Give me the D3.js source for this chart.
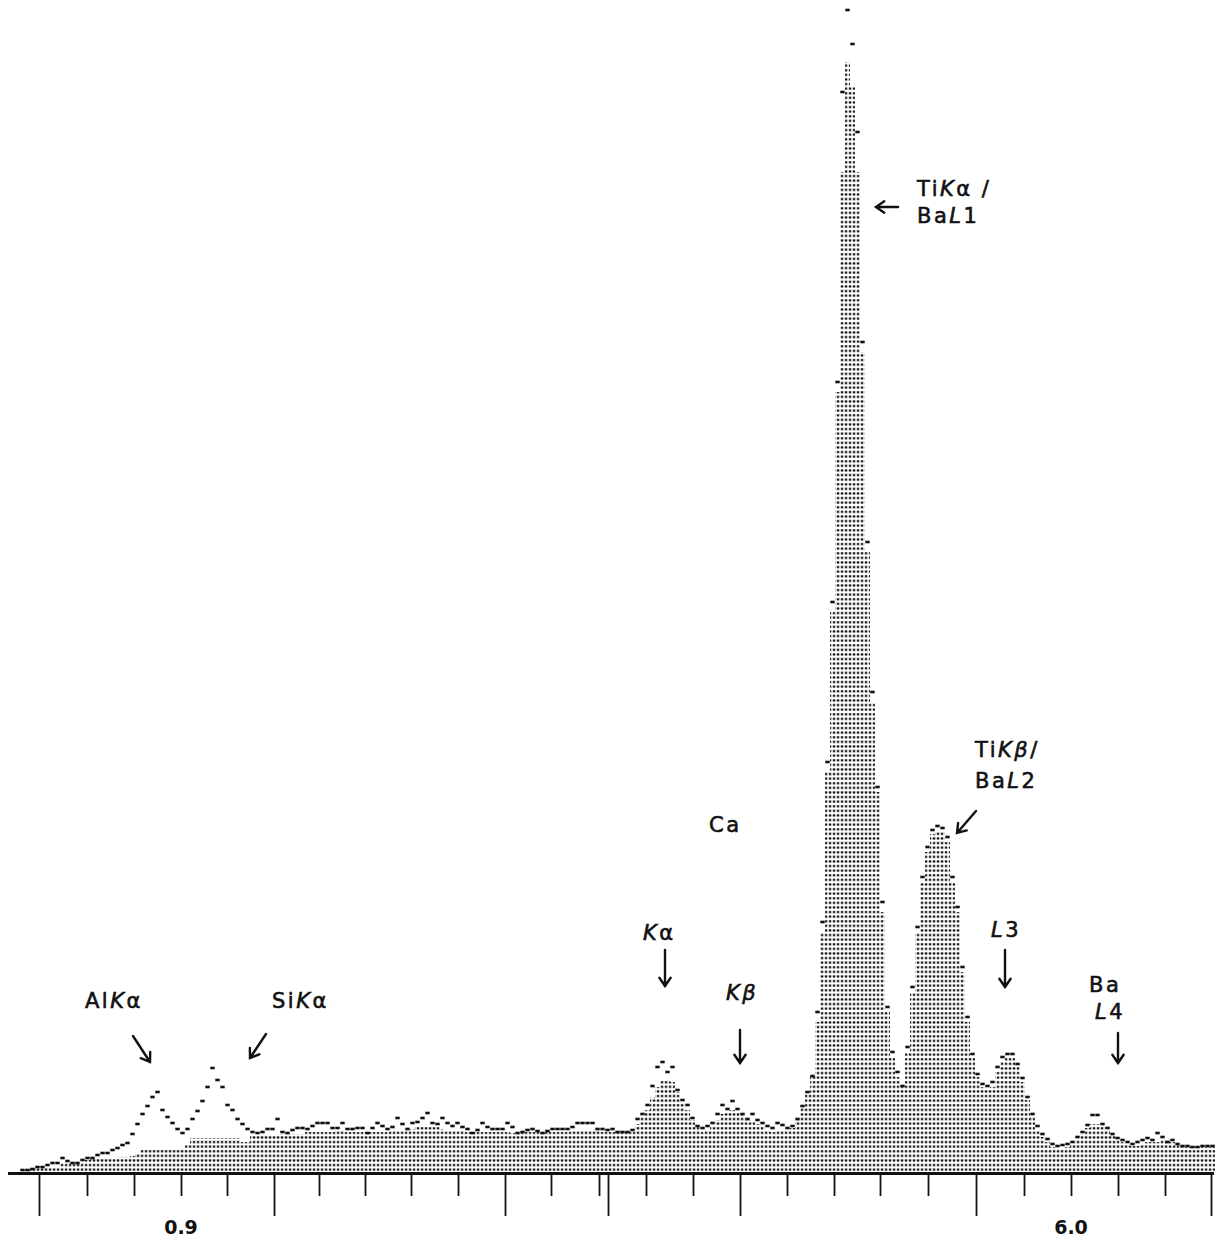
<!DOCTYPE html>
<html>
<head>
<meta charset="utf-8">
<script src="https://cdn.jsdelivr.net/npm/d3@7"></script>
<style>
  body { margin: 0; background: #fff; }
  svg { display: block; }
  text { font-family: "DejaVu Sans", sans-serif; fill: #111; }
</style>
</head>
<body>
<svg id="chart" width="1216" height="1240"></svg>
<script>
// dotted (filled) spectrum, counts per channel
const fill = [
  2,2,5,5,5,5,5,5,10,10,
  10,10,10,12,14,14,14,14,14,15,
  15,15,16,18,22,22,22,22,22,22,
  22,22,24,28,34,34,34,34,34,34,
  34,34,34,34,30,30,36,36,36,37,
  37,37,38,38,38,38,38,40,40,40,
  40,40,40,41,41,40,40,40,40,40,
  40,40,40,40,41,41,42,42,43,45,
  45,45,45,45,43,42,42,42,41,40,
  40,40,40,40,40,40,40,40,39,39,
  39,40,40,40,40,40,40,40,40,40,
  41,42,42,42,42,41,40,40,40,40,
  40,40,40,48,55,62,75,85,92,92,
  90,80,70,62,52,45,40,42,45,52,
  58,60,62,60,58,52,50,48,45,42,
  40,42,42,42,44,52,64,80,96,150,
  240,400,560,780,1000,1110,1085,1000,820,620,
  470,380,260,160,115,95,86,120,180,240,
  290,320,338,340,340,330,290,260,200,150,
  115,95,85,82,85,100,110,115,115,105,
  90,72,55,42,35,30,25,24,24,25,
  28,32,38,44,48,48,45,42,36,32,
  30,28,26,26,28,30,30,30,32,32,
  30,27,25,25,25,25,25,25,25
]

// plotted count markers (dashes) per channel
const trace = [
  2,2,3,5,5,7,9,9,14,11,
  9,9,12,14,14,17,19,19,22,24,
  27,29,38,48,58,66,75,80,62,55,
  49,43,39,43,53,61,71,85,104,92,
  85,67,62,53,48,43,40,39,40,43,
  43,53,40,39,42,44,44,43,46,49,
  49,49,44,44,49,43,43,44,44,39,
  44,49,46,43,45,54,48,43,49,50,
  54,59,49,48,54,49,46,49,45,43,
  39,42,49,45,43,43,43,49,45,39,
  40,42,43,41,39,41,43,43,43,43,
  45,49,49,49,49,43,43,42,43,40,
  40,40,42,53,58,67,86,105,110,100,
  105,82,72,67,54,46,44,46,49,58,
  67,63,71,63,58,53,58,52,49,46,
  44,49,47,44,46,53,66,80,96,160,
  250,410,570,790,1080,1162,1128,1040,830,630,
  480,385,270,165,120,100,86,125,185,245,
  295,325,342,346,344,335,295,265,205,155,
  118,98,88,86,90,105,115,118,118,108,
  94,75,58,46,38,33,28,26,27,28,
  30,35,40,47,57,57,48,44,38,34,
  32,30,28,30,32,34,32,39,35,30,
  32,28,26,26,25,25,26,26,26
]

// axis ticks in channel units
const minorTicks = [13.4, 22.8, 32.2, 41.4, 59.8, 69, 78.2, 87.6, 106.2, 115.8,
  125.2, 134.6, 153.4, 162.8, 172, 181.6, 200.8, 210.2, 219.6, 229]
const majorTicks = [3.8, 50.8, 97, 117.6, 144, 191.2, 238.2]
const tickLabels = ["0.9", "6.0"]
const tickLabelPos = [32.2, 210.2]

const width = 1216
const height = 1240
const baseY = 1172

const svg = d3.select("#chart")

const x = d3.scaleLinear()
    .domain([0, fill.length])
    .range([20, 20 + 5 * fill.length])

const y = d3.scaleLinear()
    .domain([0, 1164])
    .range([baseY, 8])

// dot raster used for the filled spectrum
const defs = svg.append("defs")
const pat = defs.append("pattern")
    .attr("id", "dots")
    .attr("patternUnits", "userSpaceOnUse")
    .attr("width", 4)
    .attr("height", 4.6)
    .attr("x", 0)
    .attr("y", baseY)
pat.append("rect")
    .attr("x", 0.8).attr("y", 1.2)
    .attr("width", 2.5).attr("height", 2.1)
    .attr("fill", "#111")

const steps = fill.map((v, i) => ({ i, v })).concat([{ i: fill.length, v: fill[fill.length - 1] }])

const area = d3.area()
    .x(d => x(d.i))
    .y0(baseY)
    .y1(d => y(d.v))
    .curve(d3.curveStepAfter)

svg.append("path")
    .datum(steps)
    .attr("fill", "url(#dots)")
    .attr("d", area)

// count markers
svg.append("g")
    .selectAll("rect")
    .data(trace)
    .join("rect")
    .attr("x", (d, i) => x(i) + 0.3)
    .attr("y", d => y(d) - 1.3)
    .attr("width", x(1) - x(0) - 0.6)
    .attr("height", 2.6)
    .attr("fill", "#111")

// axis
svg.append("line")
    .attr("x1", 8).attr("x2", 1214)
    .attr("y1", baseY + 1.5).attr("y2", baseY + 1.5)
    .attr("stroke", "#111")
    .attr("stroke-width", 3)

const minorAxis = g => g
    .attr("transform", `translate(0,${baseY + 2})`)
    .call(d3.axisBottom(x).tickValues(minorTicks).tickSize(22).tickFormat(""))
    .call(g => g.select(".domain").remove())

const majorAxis = g => g
    .attr("transform", `translate(0,${baseY + 2})`)
    .call(d3.axisBottom(x).tickValues(majorTicks).tickSize(42).tickFormat(""))
    .call(g => g.select(".domain").remove())

svg.append("g").call(minorAxis)
svg.append("g").call(majorAxis)
svg.selectAll(".tick line").attr("stroke", "#111").attr("stroke-width", 1.8)

tickLabels.forEach(function (t, i) {
    svg.append("text")
        .attr("x", x(tickLabelPos[i]))
        .attr("y", 1234)
        .attr("text-anchor", "middle")
        .attr("font-size", 19)
        .attr("font-weight", "bold")
        .text(t)
})

// peak labels: [parts, x, baseline y]; parts marked "i" are italic
const labels = [
    [[["Al"], ["K", "i"], ["α"]], 85, 1008],
    [[["Si"], ["K", "i"], ["α"]], 272, 1008],
    [[["K", "i"], ["α"]], 643, 940],
    [[["K", "i"], ["β", "i"]], 726, 1000],
    [[["Ca"]], 709, 832],
    [[["Ti"], ["K", "i"], ["α /"]], 917, 196],
    [[["Ba"], ["L", "i"], ["1"]], 917, 223],
    [[["Ti"], ["K", "i"], ["β", "i"], ["/"]], 975, 757],
    [[["Ba"], ["L", "i"], ["2"]], 975, 788],
    [[["L", "i"], ["3"]], 991, 937],
    [[["Ba"]], 1089, 992],
    [[["L", "i"], ["4"]], 1095, 1019]
]

labels.forEach(function (l) {
    const t = svg.append("text")
        .attr("x", l[1])
        .attr("y", l[2])
        .attr("font-size", 21)
        .attr("letter-spacing", 2.5)
        .attr("stroke", "#111")
        .attr("stroke-width", 0.6)
    l[0].forEach(function (p) {
        t.append("tspan")
            .attr("font-style", p[1] ? "italic" : "normal")
            .text(p[0])
    })
})

// arrows: from (x1,y1) to tip (x2,y2)
const arrows = [
    [133, 1036, 150, 1062],
    [266, 1034, 250, 1058],
    [665, 950, 665, 986],
    [740, 1030, 740, 1063],
    [898, 207, 876, 207],
    [976, 811, 957, 833],
    [1005, 950, 1005, 987],
    [1118, 1033, 1118, 1063]
]

arrows.forEach(function (a) {
    const ang = Math.atan2(a[3] - a[1], a[2] - a[0])
    const hl = 10
    const p1 = [a[2] - hl * Math.cos(ang - 0.6), a[3] - hl * Math.sin(ang - 0.6)]
    const p2 = [a[2] - hl * Math.cos(ang + 0.6), a[3] - hl * Math.sin(ang + 0.6)]
    svg.append("path")
        .attr("d", `M${a[0]},${a[1]}L${a[2]},${a[3]}M${p1}L${a[2]},${a[3]}L${p2}`)
        .attr("fill", "none")
        .attr("stroke", "#111")
        .attr("stroke-width", 2.4)
        .attr("stroke-linecap", "round")
})
</script>
</body>
</html>
